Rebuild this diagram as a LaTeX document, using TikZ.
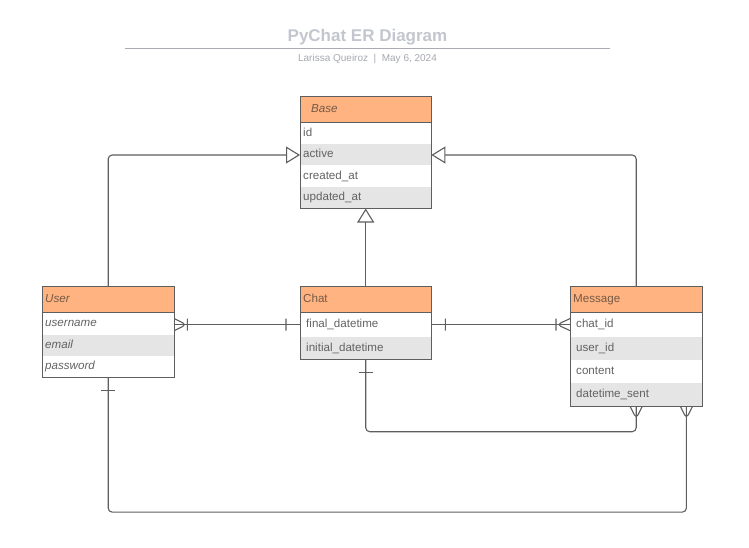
\documentclass[tikz,border=0pt]{standalone}
\usepackage{fontspec}
\setmainfont{Liberation Sans}
\usetikzlibrary{positioning,arrows.meta}

\definecolor{hdrfill}{HTML}{FFB380}
\definecolor{hdrtext}{HTML}{745A48}
\definecolor{rowgrey}{HTML}{E5E5E5}
\definecolor{rowtext}{HTML}{626262}
\definecolor{edgegrey}{HTML}{5E5E5E}
\definecolor{titlegrey}{HTML}{C2C6CE}
\definecolor{rulegrey}{HTML}{A9ADB3}

\begin{document}
\begin{tikzpicture}[x=1pt,y=-1pt,
  every node/.style={inner sep=0pt},
  head/.style={fill=hdrfill,text=hdrtext,minimum height=26.5pt,text height=8.6pt,text depth=2.6pt,align=left,font=\fontsize{11.6}{13}\selectfont},
  attr/.style={minimum height=21pt,text width=125pt,inner xsep=3pt,text height=8.6pt,text depth=2.6pt,align=left,text=rowtext,font=\fontsize{11.6}{13}\selectfont},
  wide/.style={minimum height=23pt,text width=119pt,inner xsep=6pt},
  shade/.style={fill=rowgrey},
  box/.style={draw=edgegrey,line width=0.9pt},
  conn/.style={draw=edgegrey,line width=1.1pt,rounded corners=4pt},
  isa/.style={conn,-{Triangle[open,length=14pt,width=17pt,fill=white]}}]
  \useasboundingbox (0,0) rectangle (749,548);

  % title
  \node[font=\bfseries\fontsize{17}{20}\selectfont,text=titlegrey] (title) at (367.5,37) {PyChat ER Diagram};
  \draw[rulegrey,line width=0.8pt] (125,48) -- (610,48);
  \node[font=\fontsize{10}{12}\selectfont,text=titlegrey!85!black] (byline) at (367.5,59) {Larissa Queiroz\ \ |\ \ May 6, 2024};

  % Base
  \node[head,anchor=north west,text width=109pt,inner xsep=11pt] (base) at (300,96) {\itshape Base};
  \node[attr,below=0pt of base] (base_id) {id};
  \node[attr,shade,below=0pt of base_id] (base_act) {active};
  \node[attr,below=0pt of base_act] (base_cre) {created\_at};
  \node[attr,shade,below=0pt of base_cre] (base_upd) {updated\_at};
  \draw[box] (base.north west) rectangle (base_upd.south east) (base.south west) -- (base.south east);

  % User
  \node[head,anchor=north west,text width=126pt,inner xsep=3pt] (user) at (42,286) {\itshape User};
  \node[attr,text width=126pt,below=0pt of user] (user_name) {\itshape username};
  \node[attr,text width=126pt,shade,below=0pt of user_name] (user_mail) {\itshape email};
  \node[attr,text width=126pt,below=0pt of user_mail] (user_pass) {\itshape password};
  \draw[box] (user.north west) rectangle (user_pass.south east) (user.south west) -- (user.south east);

  % Chat
  \node[head,anchor=north west,text width=125pt,inner xsep=3pt] (chat) at (300,286) {Chat};
  \node[attr,wide,below=0pt of chat] (chat_final) {final\_datetime};
  \node[attr,wide,shade,below=0pt of chat_final] (chat_init) {initial\_datetime};
  \draw[box] (chat.north west) rectangle (chat_init.south east) (chat.south west) -- (chat.south east);

  % Message
  \node[head,anchor=north west,text width=126pt,inner xsep=3pt] (msg) at (570,286) {Message};
  \node[attr,wide,text width=120pt,below=0pt of msg] (msg_chat) {chat\_id};
  \node[attr,wide,text width=120pt,shade,below=0pt of msg_chat] (msg_user) {user\_id};
  \node[attr,wide,text width=120pt,below=0pt of msg_user] (msg_cont) {content};
  \node[attr,wide,text width=120pt,shade,below=0pt of msg_cont] (msg_sent) {datetime\_sent};
  \draw[box] (msg.north west) rectangle (msg_sent.south east) (msg.south west) -- (msg.south east);

  % inheritance
  \draw[isa] (user.north) |- (base_act.west);
  \draw[isa] (msg.north) |- (base_act.east);
  \draw[isa] (chat.north) -- (base_upd.south);

  % relations
  \draw[conn] (chat_final.west -| user_name.east) -- (chat_final.west);
  \draw[conn] (chat_final.east) -- (msg_chat.west);
  \draw[conn] (chat_init.south) -- ++(0,72) -| (msg_sent.south);
  \draw[conn] (user_pass.south) -- ++(0,135) -| ([xshift=-16pt]msg_sent.south east);

  % crow's feet and bars
  \draw[conn] ([shift={(0,-6)}]chat_final.west -| user_name.east) -- ++(12,6) -- ++(-12,6)
              ([shift={(13,-6)}]chat_final.west -| user_name.east) -- ++(0,12)
              ([shift={(-14,-6)}]chat_final.west) -- ++(0,12)
              ([shift={(14,-6)}]chat_final.east) -- ++(0,12);
  \draw[conn] ([shift={(0,-6)}]msg_chat.west) -- ++(-13,6) -- ++(13,6)
              ([shift={(-14,-6)}]msg_chat.west) -- ++(0,12);
  \draw[conn] ([shift={(-7,13)}]chat_init.south) -- ++(14,0)
              ([shift={(-7,13)}]user_pass.south) -- ++(14,0);
  \draw[conn] ([shift={(-6,0)}]msg_sent.south) -- ++(6,12) -- ++(6,-12)
              ([shift={(-22,0)}]msg_sent.south east) -- ++(6,12) -- ++(6,-12);
\end{tikzpicture}
\end{document}
